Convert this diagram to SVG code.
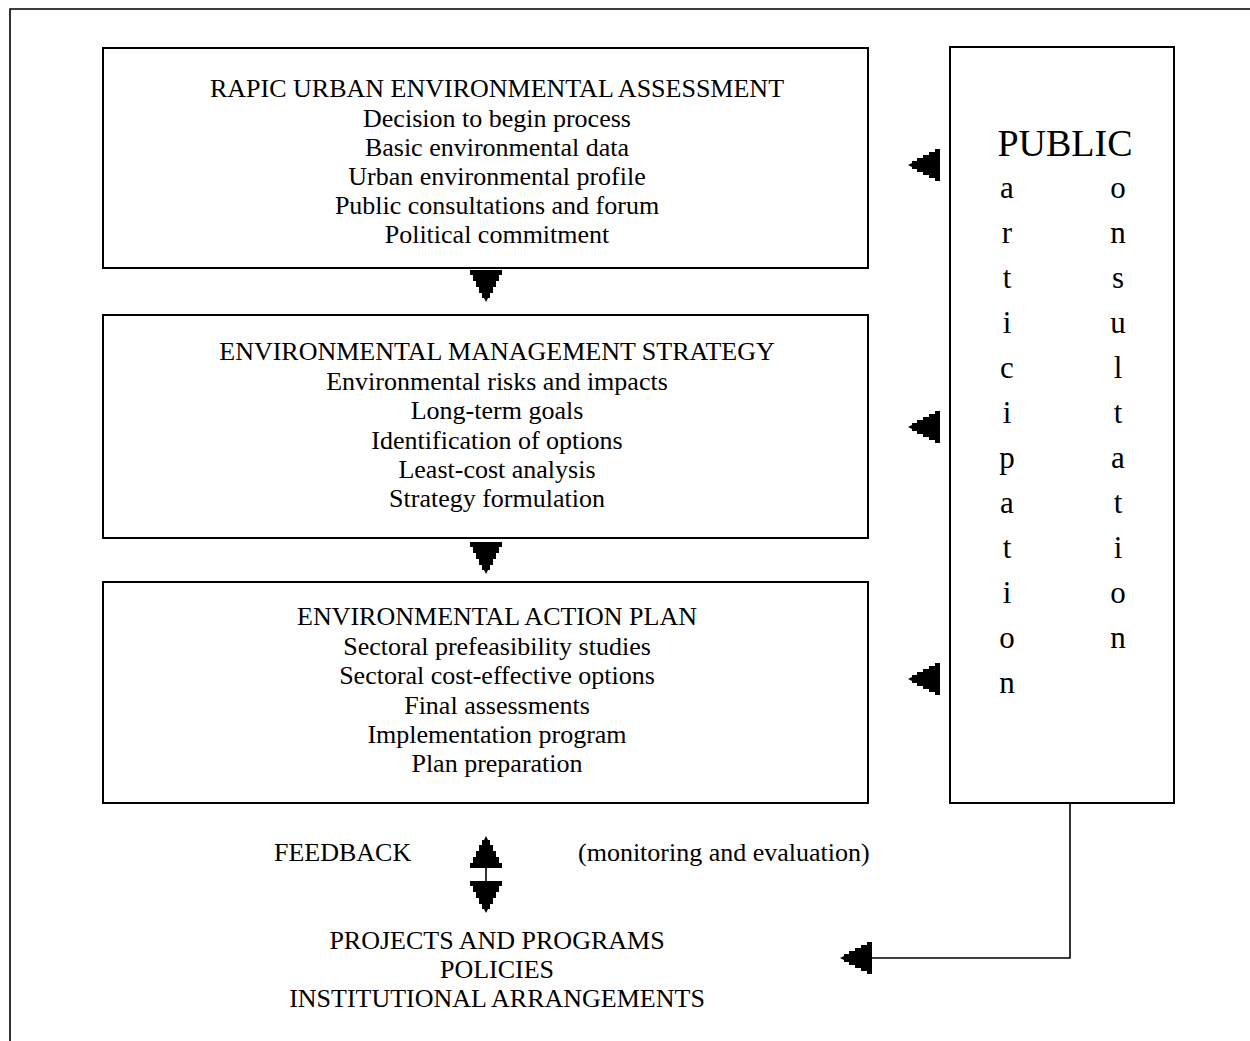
<svg xmlns="http://www.w3.org/2000/svg" xmlns:xlink="http://www.w3.org/1999/xlink" width="1250" height="1041" viewBox="0 0 1250 1041">
<style>
  .box { fill: #fff; stroke: #000; stroke-width: 2; }
  .line { fill: none; stroke: #000; stroke-width: 1.6; }
  .t { font-family: "Liberation Serif", "Times New Roman", serif; font-size: 26px; fill: #000; text-anchor: middle; }
  .tl { font-family: "Liberation Serif", "Times New Roman", serif; font-size: 26px; fill: #000; }
  .big { font-family: "Liberation Serif", "Times New Roman", serif; font-size: 38px; fill: #000; text-anchor: middle; }
  .col { font-family: "Liberation Serif", "Times New Roman", serif; font-size: 31px; fill: #000; text-anchor: middle; }
</style>
<defs>
  <polygon id="arr" fill="#000" points="-16,0 16,0 16,5 13,5 13,11 10,11 10,17 7,17 7,23 4,23 4,28 2,28 0,32 -2,28 -4,28 -4,23 -7,23 -7,17 -10,17 -10,11 -13,11 -13,5 -16,5"/>
</defs>
<rect width="1250" height="1041" fill="#fff"/>
<path class="line" d="M10,1041 V9 H1250" stroke-width="2"/>

<g id="node-ruea">
  <rect class="box" x="103" y="48" width="765" height="220"/>
  <text class="t" x="497" y="97">RAPIC URBAN ENVIRONMENTAL ASSESSMENT</text>
  <text class="t" x="497" y="127">Decision to begin process</text>
  <text class="t" x="497" y="156">Basic environmental data</text>
  <text class="t" x="497" y="185">Urban environmental profile</text>
  <text class="t" x="497" y="214">Public consultations and forum</text>
  <text class="t" x="497" y="243">Political commitment</text>
</g>

<g id="node-ems">
  <rect class="box" x="103" y="315" width="765" height="223"/>
  <text class="t" x="497" y="360">ENVIRONMENTAL MANAGEMENT STRATEGY</text>
  <text class="t" x="497" y="390">Environmental risks and impacts</text>
  <text class="t" x="497" y="419">Long-term goals</text>
  <text class="t" x="497" y="449">Identification of options</text>
  <text class="t" x="497" y="478">Least-cost analysis</text>
  <text class="t" x="497" y="507">Strategy formulation</text>
</g>

<g id="node-eap">
  <rect class="box" x="103" y="582" width="765" height="221"/>
  <text class="t" x="497" y="625">ENVIRONMENTAL ACTION PLAN</text>
  <text class="t" x="497" y="655">Sectoral prefeasibility studies</text>
  <text class="t" x="497" y="684">Sectoral cost-effective options</text>
  <text class="t" x="497" y="714">Final assessments</text>
  <text class="t" x="497" y="743">Implementation program</text>
  <text class="t" x="497" y="772">Plan preparation</text>
</g>

<g id="node-public">
  <rect class="box" x="950" y="47" width="224" height="756"/>
  <text class="big" x="1065" y="156">PUBLIC</text>
  <text class="col" x="1007" y="198">a</text>
  <text class="col" x="1007" y="243">r</text>
  <text class="col" x="1007" y="288">t</text>
  <text class="col" x="1007" y="333">i</text>
  <text class="col" x="1007" y="378">c</text>
  <text class="col" x="1007" y="423">i</text>
  <text class="col" x="1007" y="468">p</text>
  <text class="col" x="1007" y="513">a</text>
  <text class="col" x="1007" y="558">t</text>
  <text class="col" x="1007" y="603">i</text>
  <text class="col" x="1007" y="648">o</text>
  <text class="col" x="1007" y="693">n</text>
  <text class="col" x="1118" y="198">o</text>
  <text class="col" x="1118" y="243">n</text>
  <text class="col" x="1118" y="288">s</text>
  <text class="col" x="1118" y="333">u</text>
  <text class="col" x="1118" y="378">l</text>
  <text class="col" x="1118" y="423">t</text>
  <text class="col" x="1118" y="468">a</text>
  <text class="col" x="1118" y="513">t</text>
  <text class="col" x="1118" y="558">i</text>
  <text class="col" x="1118" y="603">o</text>
  <text class="col" x="1118" y="648">n</text>
</g>

<g id="node-feedback">
  <text class="tl" x="274" y="861">FEEDBACK</text>
  <text class="tl" x="578" y="861">(monitoring and evaluation)</text>
</g>

<g id="node-outputs">
  <text class="t" x="497" y="949">PROJECTS AND PROGRAMS</text>
  <text class="t" x="497" y="978">POLICIES</text>
  <text class="t" x="497" y="1007">INSTITUTIONAL ARRANGEMENTS</text>
</g>

<g id="connectors">
  <use xlink:href="#arr" transform="translate(486,270)"/>
  <use xlink:href="#arr" transform="translate(486,542)"/>
  <use xlink:href="#arr" transform="translate(940,165) rotate(90)"/>
  <use xlink:href="#arr" transform="translate(940,427) rotate(90)"/>
  <use xlink:href="#arr" transform="translate(940,679) rotate(90)"/>
  <use xlink:href="#arr" transform="translate(486,868) rotate(180)"/>
  <line class="line" x1="486" y1="866" x2="486" y2="883"/>
  <use xlink:href="#arr" transform="translate(486,881)"/>
  <path class="line" d="M1070,803 V958 H870"/>
  <use xlink:href="#arr" transform="translate(872,958) rotate(90)"/>
</g>
</svg>
